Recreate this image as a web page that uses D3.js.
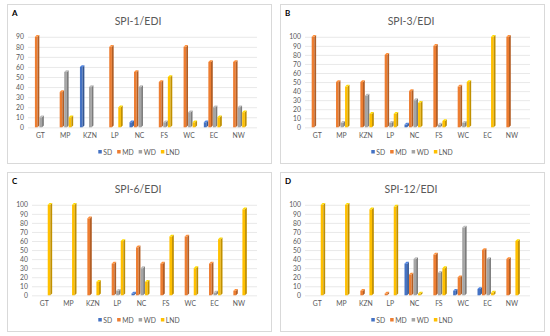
<!DOCTYPE html>
<html>
<head>
<meta charset="utf-8">
<script src="https://cdn.jsdelivr.net/npm/d3@7"></script>
<style>
  body { margin: 0; background: #fff; }
  svg { display: block; font-family: Lato, "Open Sans", sans-serif; }
</style>
</head>
<body>
<svg id="chart" width="550" height="336"></svg>
<script>
const regions = ['GT', 'MP', 'KZN', 'LP', 'NC', 'FS', 'WC', 'EC', 'NW'];
const seriesNames = ['SD', 'MD', 'WD', 'LND'];
const seriesColors = ['#4472C4', '#ED7D31', '#A5A5A5', '#FFC000'];

// SPI-1/EDI
const spi1SD  = [0, 0, 60, 0, 5, 0, 0, 5, 0];
const spi1MD  = [90, 35, 0, 80, 55, 45, 80, 65, 65];
const spi1WD  = [10, 55, 40, 0, 40, 5, 15, 20, 20];
const spi1LND = [0, 10, 0, 20, 0, 50, 5, 10, 15];

// SPI-3/EDI
const spi3SD  = [0, 0, 0, 0, 3, 0, 0, 0, 0];
const spi3MD  = [100, 50, 50, 80, 40, 90, 45, 0, 100];
const spi3WD  = [0, 5, 35, 5, 30, 3, 5, 0, 0];
const spi3LND = [0, 45, 15, 15, 27, 7, 50, 100, 0];

// SPI-6/EDI
const spi6SD  = [0, 0, 0, 0, 2, 0, 0, 0, 0];
const spi6MD  = [0, 0, 85, 35, 53, 35, 65, 35, 5];
const spi6WD  = [0, 0, 0, 5, 30, 0, 0, 3, 0];
const spi6LND = [100, 100, 15, 60, 15, 65, 30, 62, 95];

// SPI-12/EDI
const spi12SD  = [0, 0, 0, 0, 35, 0, 5, 7, 0];
const spi12MD  = [0, 0, 5, 2, 23, 45, 20, 50, 40];
const spi12WD  = [0, 0, 0, 0, 40, 25, 75, 40, 0];
const spi12LND = [100, 100, 95, 98, 2, 30, 0, 3, 60];

const panels = [
  { letter: 'A', title: 'SPI-1/EDI',  yMax: 90,  x: 7,   y: 4,   series: [spi1SD, spi1MD, spi1WD, spi1LND] },
  { letter: 'B', title: 'SPI-3/EDI',  yMax: 100, x: 280, y: 4,   series: [spi3SD, spi3MD, spi3WD, spi3LND] },
  { letter: 'C', title: 'SPI-6/EDI',  yMax: 100, x: 7,   y: 172, series: [spi6SD, spi6MD, spi6WD, spi6LND] },
  { letter: 'D', title: 'SPI-12/EDI', yMax: 100, x: 280, y: 172, series: [spi12SD, spi12MD, spi12WD, spi12LND] }
];

const svg = d3.select('#chart');
const pw = 264, ph = 159;
const depth = 1.8;
const groupW = 18;

panels.forEach(p => {
  const g = svg.append('g').attr('transform', `translate(${p.x},${p.y})`);

  g.append('rect')
    .attr('x', 0.5).attr('y', 0.5)
    .attr('width', pw).attr('height', ph)
    .attr('fill', '#fff')
    .attr('stroke', '#d9d9d9');

  g.append('text')
    .attr('x', 5).attr('y', 12)
    .attr('font-size', 8).attr('font-weight', 'bold')
    .attr('fill', '#000')
    .text(p.letter);

  g.append('text')
    .attr('x', 131).attr('y', 21)
    .attr('text-anchor', 'middle')
    .attr('font-size', 10.5)
    .attr('fill', '#595959')
    .text(p.title);

  const left = p.yMax === 100 ? 25 : 21;
  const y = d3.scaleLinear().domain([0, p.yMax]).range([123.3, 32.8]);
  const x = d3.scaleBand().domain(regions).range([left, 244]);
  const xs = d3.scaleBand().domain(seriesNames).range([0, groupW]).paddingInner(0.02);

  const yAxis = d3.axisLeft(y)
    .tickValues(d3.range(0, p.yMax + 1, 10))
    .tickSize(-(250 - left))
    .tickPadding(4);

  const ya = g.append('g')
    .attr('transform', `translate(${left},0)`)
    .call(yAxis);
  ya.select('.domain').remove();
  ya.selectAll('.tick line').attr('stroke', '#e3e3e3').attr('stroke-width', 0.8);
  ya.selectAll('.tick text').attr('fill', '#595959').attr('font-size', 6.8).attr('font-family', 'Lato, sans-serif');

  const xAxis = d3.axisBottom(x).tickSize(0).tickPadding(0);
  const xa = g.append('g')
    .attr('transform', 'translate(0,129)')
    .call(xAxis);
  xa.select('.domain').remove();
  xa.selectAll('.tick text').attr('fill', '#595959').attr('font-size', 6.8).attr('font-family', 'Lato, sans-serif');

  seriesNames.forEach((s, si) => {
    const vals = p.series[si];
    const color = seriesColors[si];
    const dark = d3.color(color).darker(0.8).toString();
    const light = d3.color(color).brighter(0.4).toString();
    const bars = g.append('g');
    regions.forEach((r, ri) => {
      const v = vals[ri];
      if (v <= 0) return;
      const bx = x(r) + (x.bandwidth() - groupW) / 2 - 1 + xs(s);
      const bw = xs.bandwidth() - depth;
      const top = y(v), base = y(0);
      bars.append('rect')
        .attr('x', bx).attr('y', top)
        .attr('width', bw).attr('height', base - top)
        .attr('fill', color);
      bars.append('path')
        .attr('d', `M${bx + bw},${top}L${bx + bw + depth},${top - depth}L${bx + bw + depth},${base - depth}L${bx + bw},${base}Z`)
        .attr('fill', dark);
      bars.append('path')
        .attr('d', `M${bx},${top}L${bx + depth},${top - depth}L${bx + bw + depth},${top - depth}L${bx + bw},${top}Z`)
        .attr('fill', light);
    });
  });

  // legend
  const legend = g.append('g');
  let lx = 0;
  seriesNames.forEach((s, si) => {
    legend.append('rect')
      .attr('x', lx).attr('y', -3)
      .attr('width', 3.5).attr('height', 3.5)
      .attr('fill', seriesColors[si]);
    const t = legend.append('text')
      .attr('x', lx + 5).attr('y', 1.5)
      .attr('font-size', 6.8)
      .attr('fill', '#595959')
      .text(s);
    lx += 5 + t.node().getComputedTextLength() + 5;
  });
  const lw = lx - 5;
  legend.attr('transform', `translate(${132 - lw / 2},149)`);
});
</script>
</body>
</html>
